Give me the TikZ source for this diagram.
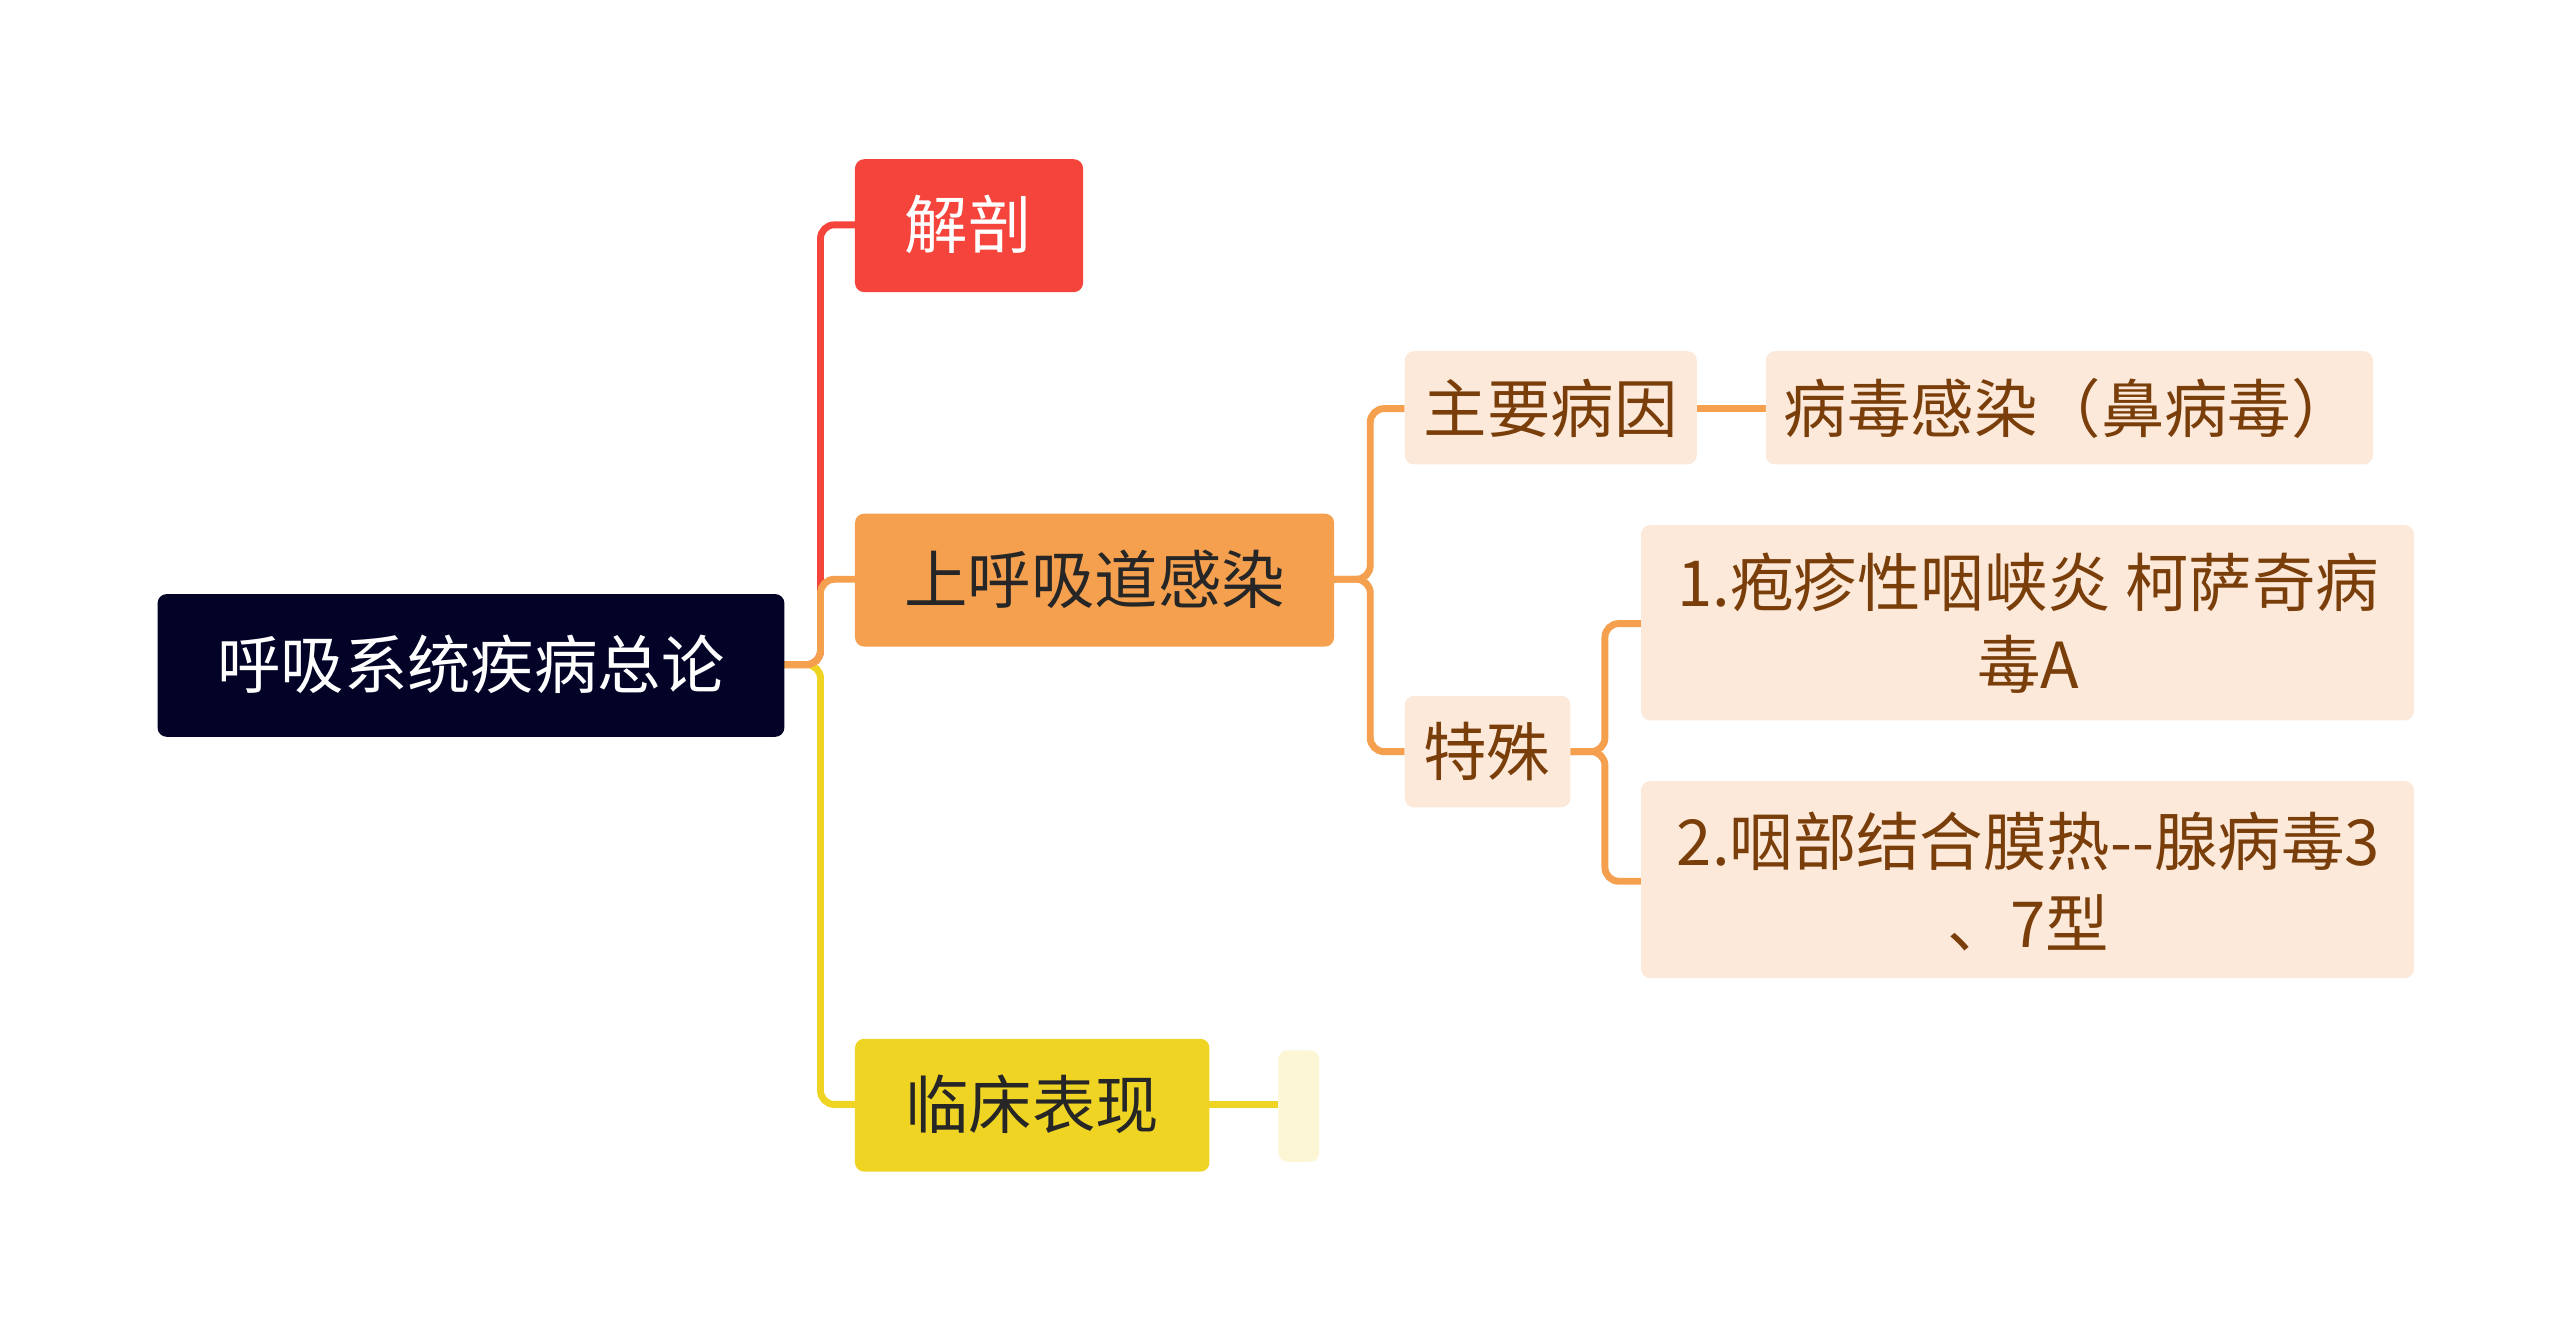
\documentclass[tikz,border=0pt]{standalone}
\usepackage{fontspec}
\setmainfont{Noto Sans CJK SC}
\definecolor{navy}{HTML}{020326}
\definecolor{cred}{HTML}{F5443B}
\definecolor{corange}{HTML}{F4A04F}
\definecolor{cyellow}{HTML}{F0D424}
\definecolor{lyellow}{HTML}{FDF6D5}
\definecolor{peach}{HTML}{FCE9DA}
\definecolor{brown}{HTML}{7A3E0A}
\begin{document}
\begin{tikzpicture}[x=0.05cm,y=-0.05cm,
  box/.style={rounded corners=8pt,inner sep=0,align=center},
  tx/.style={font=\fontsize{55}{71}\selectfont,align=center},
  ln/.style={line width=6pt,rounded corners=12pt}]
\useasboundingbox (0,0) rectangle (1560,807);
\newcommand\bx[5]{\node[box,fill=#5,minimum width={(#3-#1)*0.05cm},minimum height={(#4-#2)*0.05cm}] at ({(#1+#3)/2},{(#2+#4)/2}) {};}
% connectors
\draw[ln,cred] (478,405) -- (500,405) |- (521,137);
\draw[ln,cyellow] (478,405) -- (500,405) |- (521,673);
\draw[ln,corange] (478,405) -- (500,405) |- (521,353);
\draw[ln,corange] (813,353) -- (835,353) |- (856,249);
\draw[ln,corange] (813,353) -- (835,353) |- (856,458);
\draw[ln,corange] (1034,249) -- (1076,249);
\draw[ln,corange] (957,458) -- (978,458) |- (1000,380);
\draw[ln,corange] (957,458) -- (978,458) |- (1000,537);
\draw[ln,cyellow] (737,673) -- (779,673);
% boxes
\bx{96}{362}{478}{449}{navy}
\node[tx,text=white] (root) at (287,405) {呼吸系统疾病总论};
\bx{521}{97}{660}{178}{cred}
\node[tx,text=white] (a) at (590,137) {解剖};
\bx{521}{313}{813}{394}{corange}
\node[tx,text=black!85] (b) at (667,353) {上呼吸道感染};
\bx{521}{633}{737}{714}{cyellow}
\node[tx,text=black!85] (c) at (629,673) {临床表现};
\bx{779}{640}{804}{708}{lyellow}
\bx{856}{214}{1034}{283}{peach}
\node[tx,text=brown] (e) at (945,249) {主要病因};
\bx{1076}{214}{1446}{283}{peach}
\node[tx,text=brown] (f) at (1261,249) {病毒感染（鼻病毒）};
\bx{856}{424}{957}{492}{peach}
\node[tx,text=brown] (g) at (906,458) {特殊};
\bx{1000}{320}{1471}{439}{peach}
\node[tx,text=brown] (h) at (1236,380) {1.疱疹性咽峡炎 柯萨奇病\\毒A};
\bx{1000}{476}{1471}{596}{peach}
\node[tx,text=brown] (i) at (1236,537) {2.咽部结合膜热-{}-腺病毒3\\、7型};
\end{tikzpicture}
\end{document}
